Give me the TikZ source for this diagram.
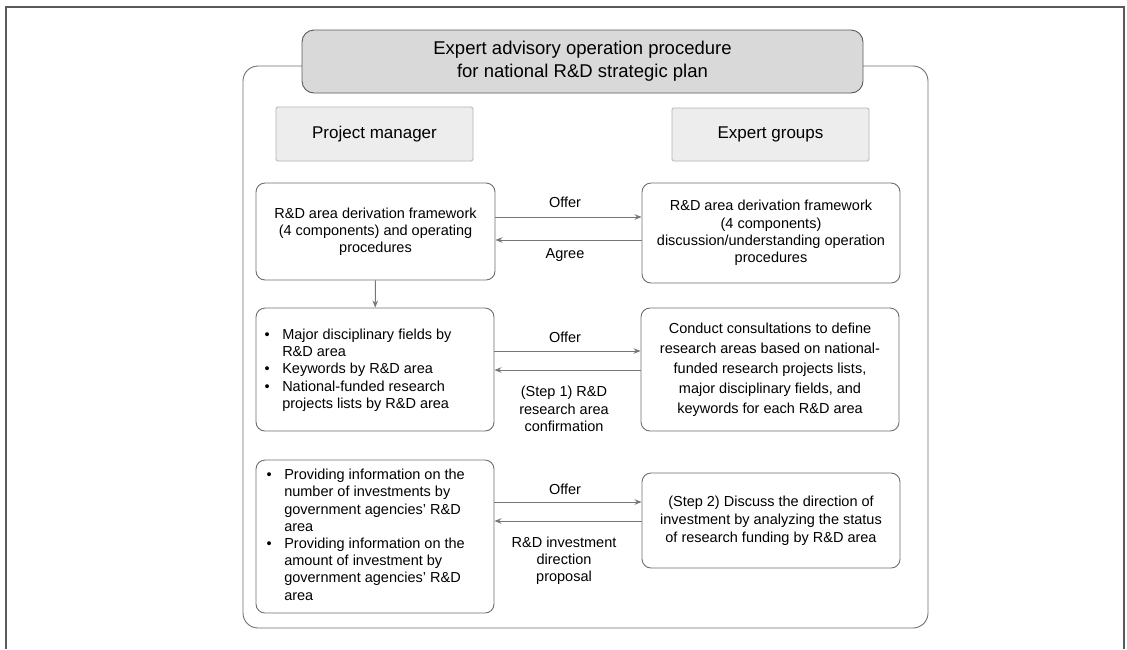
\documentclass[tikz,border=0pt]{standalone}
\usepackage{fontspec}
\setmainfont{Liberation Sans}
\usetikzlibrary{arrows.meta}
\definecolor{framec}{HTML}{5A5A5A}
\definecolor{boxc}{HTML}{6E6E6E}
\definecolor{titlefill}{HTML}{D9D9D9}
\definecolor{headfill}{HTML}{EDEDED}
\definecolor{headline}{HTML}{B3B3B3}
\definecolor{arrc}{HTML}{767676}
\begin{document}
\begin{tikzpicture}[x=1pt,y=-1pt,
  box/.style={draw=boxc, line width=0.9pt, rounded corners=9pt, fill=white, inner sep=0pt, align=center,
    font=\fontsize{14.5}{17.2}\selectfont},
  head/.style={draw=headline, fill=headfill, line width=0.8pt, rounded corners=1.5pt, inner sep=0pt,
    font=\fontsize{17}{20}\selectfont},
  arr/.style={draw=arrc, line width=1pt, -{Stealth[length=7pt,width=5.5pt]}},
  lbl/.style={align=center, inner sep=0pt, font=\fontsize{14.5}{17.2}\selectfont},
  lst/.style={anchor=west, inner sep=0pt, align=left, font=\fontsize{14.5}{17.2}\selectfont}]
\useasboundingbox (0,0) rectangle (1127,649);
% outer open frame
\draw[framec, line width=1.1pt] (6,649) -- (6,7) -- (1124,7) -- (1124,649);
% container
\draw[boxc, line width=0.9pt, rounded corners=15pt] (243,66) rectangle (928,628);
% title
\node[draw=framec, fill=titlefill, line width=0.9pt, rounded corners=12pt, minimum width=561pt, minimum height=63pt,
  align=center, inner sep=0pt, font=\fontsize{18.5}{23}\selectfont] (title) at (582.5,61.5)
  {Expert advisory operation procedure\\for national R\&D strategic plan};
% headers
\node[head, minimum width=197pt, minimum height=54pt] (pm) at (374.5,134) {Project manager};
\node[head, minimum width=197pt, minimum height=53pt] (eg) at (770.5,134.5) {Expert groups};
% row 1
\node[box, minimum width=239pt, minimum height=97pt] (b1) at (375.5,231.5)
  {R\&D area derivation framework\\(4 components) and operating\\procedures};
\node[box, minimum width=258pt, minimum height=100pt] (r1) at (771,233)
  {R\&D area derivation framework\\(4 components)\\discussion/understanding operation\\procedures};
% row 2
\node[box, minimum width=238pt, minimum height=123pt] (b2) at (375,369.5) {};
\node[lst] (l2) at (264.5,370.5) {\begin{tabular}{@{}l@{\hspace{12.5pt}}l@{}}
\textbullet & Major disciplinary fields by\\
 & R\&D area\\
\textbullet & Keywords by R\&D area\\
\textbullet & National-funded research\\
 & projects lists by R\&D area
\end{tabular}};
\node[box, minimum width=258pt, minimum height=123pt, font=\fontsize{14.5}{20}\selectfont] (r2) at (770,369.5)
  {Conduct consultations to define\\research areas based on national-\\funded research projects lists,\\major disciplinary fields, and\\keywords for each R\&D area};
% row 3
\node[box, minimum width=238pt, minimum height=153pt] (b3) at (375,536.5) {};
\node[lst] (l3) at (266.5,536.5) {\begin{tabular}{@{}l@{\hspace{12.5pt}}l@{}}
\textbullet & Providing information on the\\
 & number of investments by\\
 & government agencies' R\&D\\
 & area\\
\textbullet & Providing information on the\\
 & amount of investment by\\
 & government agencies' R\&D\\
 & area
\end{tabular}};
\node[box, minimum width=258pt, minimum height=95pt, font=\fontsize{14.5}{18}\selectfont] (r3) at (771,520.5)
  {(Step 2) Discuss the direction of\\investment by analyzing the status\\of research funding by R\&D area};
% connectors
\draw[arr] (b1.east |- 0,217) -- (r1.west |- 0,217);
\draw[arr] (r1.west |- 0,240) -- (b1.east |- 0,240);
\draw[arr] (b1) -- (b2);
\draw[arr] (b2.east |- 0,351) -- (r2.west |- 0,351);
\draw[arr] (r2.west |- 0,370) -- (b2.east |- 0,370);
\draw[arr] (b3.east |- 0,502) -- (r3.west |- 0,502);
\draw[arr] (r3.west |- 0,521) -- (b3.east |- 0,521);
% labels
\node[lbl] (o1) at (565,202) {Offer};
\node[lbl] (a1) at (565,255) {Agree};
\node[lbl] (o2) at (565,337) {Offer};
\node[lbl] (s1) at (564,409) {(Step 1) R\&D\\research area\\confirmation};
\node[lbl] (o3) at (565,489) {Offer};
\node[lbl] (s2) at (564,561) {R\&D investment\\direction\\proposal};
\end{tikzpicture}
\end{document}
